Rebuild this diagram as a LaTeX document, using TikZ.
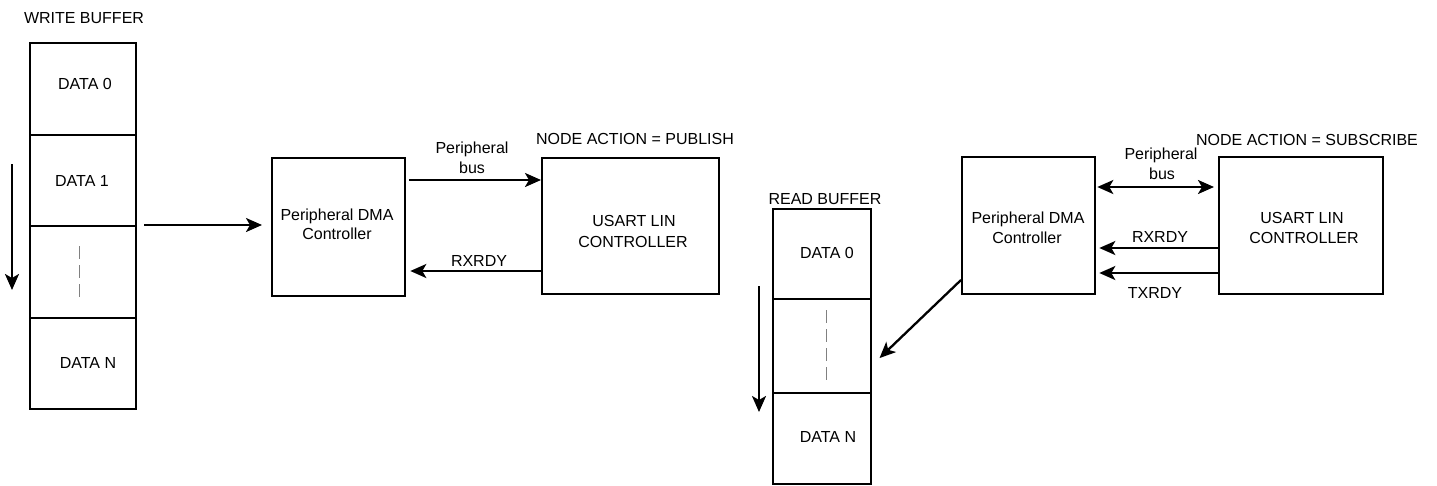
\documentclass[tikz,border=0pt]{standalone}
\usepackage{fontspec}
\setmainfont{Liberation Sans}
\usetikzlibrary{arrows.meta,calc}
\begin{document}
\begin{tikzpicture}[x=1pt,y=-1pt,
  box/.style={draw,line width=2.3pt,inner sep=0pt,anchor=north west},
  txt/.style={inner sep=0pt,anchor=base,font=\fontsize{16}{19}\selectfont},
  conn/.style={line width=2.3pt,-{Stealth[length=16pt,width=14pt,inset=4pt]}},
  dconn/.style={line width=2.3pt,{Stealth[length=16pt,width=14pt,inset=4pt]}-{Stealth[length=16pt,width=14pt,inset=4pt]}},
  dots/.style={draw=gray,line width=1pt,dash pattern=on 13pt off 6pt}]
\useasboundingbox (0,0) rectangle (1437,485);

% ---------- write buffer ----------
\node[box,minimum width=106pt,minimum height=92pt] (wc0) at (29,42) {};
\node[box,minimum width=106pt,minimum height=91pt] (wc1) at (29,134) {};
\node[box,minimum width=106pt,minimum height=92pt] (wc2) at (29,225) {};
\node[box,minimum width=106pt,minimum height=91pt] (wc3) at (29,317) {};
\node[txt] (wt)  at (84,23)  {WRITE BUFFER};
\node[txt] (wd0) at (85,89)  {DATA 0};
\node[txt] (wd1) at (82,186) {DATA 1};
\node[txt] (wdn) at (88,368) {DATA N};
\coordinate (wdt1) at (79,246);
\coordinate (wdt2) at (79,300);
\draw[dots] (wdt1) -- (wdt2);
\coordinate (wa1) at (12,164);
\coordinate (wa2) at (12,290);
\draw[conn] (wa1) -- (wa2);

% ---------- publish side ----------
\node[box,minimum width=133pt,minimum height=138pt] (dma1) at (271,157) {};
\node[box,minimum width=177pt,minimum height=136pt] (usart1) at (541,157) {};
\node[txt] (d1a) at (337,220) {Peripheral DMA};
\node[txt] (d1b) at (337,239) {Controller};
\node[txt] (u1a) at (634,226) {USART LIN};
\node[txt] (u1b) at (633,247) {CONTROLLER};
\node[txt] (pub) at (635,144) {NODE ACTION = PUBLISH};
\node[txt] (pb1a) at (472,153) {Peripheral};
\node[txt] (pb1b) at (472,173) {bus};
\node[txt] (rx1) at (479,266) {RXRDY};

\draw[conn,shorten <=7pt,shorten >=9pt] (wc2.north east) -- (wc2.north east -| dma1.west);
\draw[conn,shorten <=3pt] (dma1.east |- 0,180) -- (usart1.west |- 0,180);
\draw[conn,shorten >=4pt] (usart1.west |- 0,271) -- (dma1.east |- 0,271);

% ---------- subscribe side ----------
\node[box,minimum width=133pt,minimum height=137pt] (dma2) at (961,156) {};
\node[box,minimum width=164pt,minimum height=137pt] (usart2) at (1218,156) {};
\node[txt] (d2a) at (1028,223) {Peripheral DMA};
\node[txt] (d2b) at (1027,243) {Controller};
\node[txt] (u2a) at (1302,223) {USART LIN};
\node[txt] (u2b) at (1304,243) {CONTROLLER};
\node[txt] (sub) at (1307,145) {NODE ACTION = SUBSCRIBE};
\node[txt] (pb2a) at (1161,159) {Peripheral};
\node[txt] (pb2b) at (1162,179) {bus};
\node[txt] (rx2) at (1160,242) {RXRDY};
\node[txt] (tx2) at (1155,298) {TXRDY};

\draw[dconn,shorten <=1pt,shorten >=4pt] (dma2.east |- 0,187) -- (usart2.west |- 0,187);
\draw[conn,shorten >=3pt] (usart2.west |- 0,248) -- (dma2.east |- 0,248);
\draw[conn,shorten >=3pt] (usart2.west |- 0,273) -- (dma2.east |- 0,273);

% ---------- read buffer ----------
\node[box,minimum width=98pt,minimum height=90pt] (rc0) at (772,208) {};
\node[box,minimum width=98pt,minimum height=94pt] (rc1) at (772,298) {};
\node[box,minimum width=98pt,minimum height=91pt] (rc2) at (772,392) {};
\node[txt] (rt)  at (825,204) {READ BUFFER};
\node[txt] (rd0) at (827,258) {DATA 0};
\node[txt] (rdn) at (828,442) {DATA N};
\coordinate (rdt1) at (826,310);
\coordinate (rdt2) at (826,385);
\draw[dots] (rdt1) -- (rdt2);
\coordinate (ra1) at (759,286);
\coordinate (ra2) at (759,412);
\draw[conn] (ra1) -- (ra2);

\draw[conn,shorten >=10pt] (dma2.west |- 0,280) -- (rc1.east |- 0,365);
\end{tikzpicture}
\end{document}
